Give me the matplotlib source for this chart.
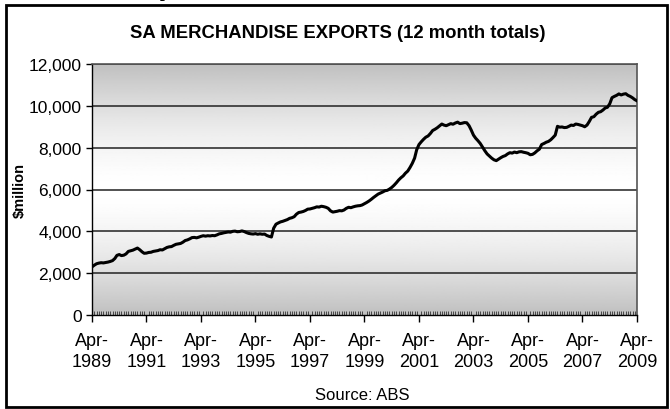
import numpy as np
import pandas as pd
import matplotlib
matplotlib.use("Agg")
import matplotlib.pyplot as plt
import matplotlib.dates as mdates
from matplotlib.patches import Rectangle
from matplotlib.ticker import FuncFormatter

# 12 month totals of SA merchandise exports, $million, monthly from Apr-1989
exports = [
    2300, 2380, 2450, 2480, 2500, 2490, 2510, 2530, 2560, 2600, 2700, 2850,
    2890, 2840, 2860, 2920, 3040, 3070, 3100, 3150, 3200, 3120, 3020, 2950,
    2960, 2990, 3000, 3040, 3060, 3080, 3120, 3110, 3170, 3230, 3260, 3270,
    3330, 3380, 3400, 3420, 3480, 3560, 3590, 3640, 3700, 3710, 3690, 3720,
    3760, 3790, 3770, 3790, 3780, 3800, 3790, 3830, 3880, 3900, 3930, 3950,
    3970, 3960, 4000, 4010, 3980, 3990, 4020, 3990, 3940, 3900, 3880, 3870,
    3890, 3860, 3880, 3860, 3870, 3800, 3760, 3730, 4150, 4340, 4400, 4450,
    4480, 4520, 4560, 4620, 4650, 4700, 4820, 4900, 4920, 4950, 5000, 5060,
    5070, 5100, 5130, 5170, 5160, 5200, 5180, 5150, 5100, 4980, 4920, 4940,
    4960, 4990, 4980, 5020, 5100, 5150, 5130, 5170, 5200, 5220, 5230, 5260,
    5320, 5380, 5450, 5530, 5620, 5700, 5780, 5830, 5880, 5940, 5960, 6020,
    6100, 6200, 6320, 6450, 6560, 6650, 6780, 6880, 7050, 7250, 7500, 7900,
    8150, 8280, 8400, 8500, 8560, 8680, 8820, 8880, 8950, 9040, 9130, 9080,
    9050, 9100, 9150, 9120, 9180, 9220, 9150, 9170, 9200, 9190, 9050, 8850,
    8600, 8450, 8330, 8200, 8020, 7850, 7700, 7600, 7500, 7420, 7380, 7450,
    7520, 7580, 7620, 7700, 7760, 7740, 7790, 7760, 7800, 7810, 7780, 7760,
    7730, 7660, 7680, 7750, 7850, 7930, 8150, 8200, 8260, 8300, 8380, 8480,
    8600, 9020, 8980, 8990, 8960, 8970, 9020, 9080, 9060, 9130, 9110, 9080,
    9050, 9000, 9080, 9250, 9450, 9480, 9600, 9690, 9720, 9800, 9900, 9930,
    10100, 10390, 10450, 10500, 10570, 10520, 10560, 10580, 10500, 10450, 10380, 10300,
    10240,
]
months = pd.date_range("1989-04-01", periods=len(exports), freq="MS")
y_ticks = [0, 2000, 4000, 6000, 8000, 10000, 12000]

plt.rcParams["font.family"] = ["Liberation Sans", "DejaVu Sans"]

fig = plt.figure(figsize=(6.7, 4.1), dpi=100)
ax = fig.add_axes([92 / 670, 1 - 316 / 410, 545 / 670, 251 / 410])

x0 = mdates.date2num(months[0])
x1 = mdates.date2num(months[-1])

# grey -> white -> grey background like the Excel fill
t = np.linspace(0, 1, 256)
shade = 1 - 0.25 * np.abs(2 * t - 1) ** 1.6
ax.imshow(shade[:, None], cmap="gray", vmin=0, vmax=1, aspect="auto",
          extent=[x0, x1, 0, 12000], origin="lower", zorder=0)

for v in y_ticks[1:]:
    ax.axhline(v, color="#222222", lw=1.1, zorder=1)

ax.plot(months, exports, color="black", lw=2.2, zorder=3)

ax.set_xlim(x0, x1)
ax.set_ylim(0, 12000)
ax.set_yticks(y_ticks)
ax.yaxis.set_major_formatter(FuncFormatter(lambda v, p: f"{int(v):,}"))
ax.tick_params(axis="y", labelsize=12.5, length=4, width=1)

major = [d for d in pd.date_range("1989-04-01", "2009-04-01", freq="24MS")]
ax.set_xticks([mdates.date2num(d) for d in major])
ax.set_xticklabels([f"Apr-\n{d.year}" for d in major], linespacing=1.35)
ax.xaxis.set_minor_locator(mdates.MonthLocator())
ax.tick_params(axis="x", which="major", labelsize=13, length=5, width=1,
               direction="out", pad=7)
ax.tick_params(axis="x", which="minor", length=3, width=0.6,
               direction="in", color="#333333")

for side in ["top", "right"]:
    ax.spines[side].set_color("#555555")
    ax.spines[side].set_linewidth(1.2)
ax.spines["left"].set_linewidth(1)
ax.spines["bottom"].set_linewidth(1)

ax.set_ylabel("$million", fontsize=10.5, fontweight="bold")
ax.yaxis.set_label_coords(-(92 - 27) / 545, 0.5)

fig.text(0.5 * (8 + 667) / 670, 1 - 33 / 410,
         "SA MERCHANDISE EXPORTS (12 month totals)",
         ha="center", va="center", fontsize=13.3, fontweight="bold")
fig.text(362 / 670, 1 - 396 / 410, "Source: ABS", ha="center", va="center",
         fontsize=12)

# heading of the page, mostly cut off at the top
fig.text(8 / 670, 1 + 3 / 410, "SA Merchandise Exports", ha="left",
         va="baseline", fontsize=13, fontweight="bold",
         family=["Liberation Serif", "DejaVu Serif"])

fig.patches.append(Rectangle((6 / 670, 2 / 410), 661 / 670, 402 / 410,
                             transform=fig.transFigure, fill=False,
                             edgecolor="black", lw=2))

fig.savefig("out.png", dpi=100)
